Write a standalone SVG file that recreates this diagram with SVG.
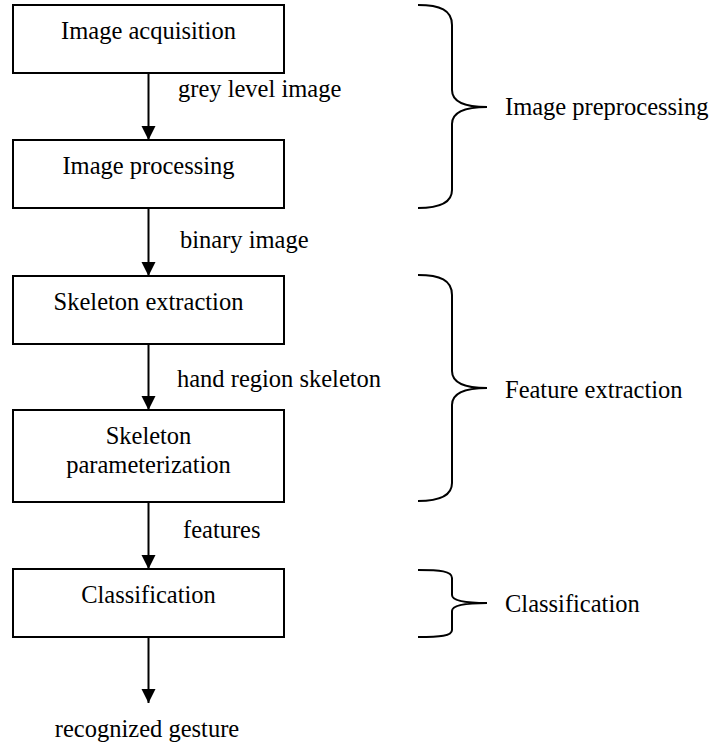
<svg xmlns="http://www.w3.org/2000/svg" width="713" height="747" viewBox="0 0 713 747">
<style>
text{font-family:'Liberation Serif','DejaVu Serif',serif;font-size:24.5px;fill:#000}
.c{text-anchor:middle}
.box{fill:#fff;stroke:#000;stroke-width:2}
.ln{stroke:#000;stroke-width:2;fill:none}
.br{stroke:#000;stroke-width:2;fill:none}
</style>
<defs>
<marker id="ah" markerUnits="userSpaceOnUse" markerWidth="14" markerHeight="15" refX="14" refY="7" orient="auto">
<path d="M0,0 L14,7 L0,14 Z" fill="#000"/>
</marker>
</defs>
<rect width="713" height="747" fill="#fff"/>
<g id="connectors" font-family="Liberation Serif, DejaVu Serif, serif">
<line class="ln" x1="148.5" y1="73" x2="148.5" y2="140" marker-end="url(#ah)"/>
<line class="ln" x1="148.5" y1="208" x2="148.5" y2="276" marker-end="url(#ah)"/>
<line class="ln" x1="148.5" y1="344" x2="148.5" y2="410" marker-end="url(#ah)"/>
<line class="ln" x1="148.5" y1="502" x2="148.5" y2="569" marker-end="url(#ah)"/>
<line class="ln" x1="148.5" y1="637" x2="148.5" y2="703" marker-end="url(#ah)"/>
<text x="178" y="97">grey level image</text>
<text x="180" y="248">binary image</text>
<text x="177" y="387">hand region skeleton</text>
<text x="183" y="538">features</text>
<text class="c" x="147" y="737">recognized gesture</text>
</g>
<g id="n1"><rect class="box" x="13" y="5" width="271" height="68"/><text class="c" x="148.5" y="39">Image acquisition</text></g>
<g id="n2"><rect class="box" x="13" y="140" width="271" height="68"/><text class="c" x="148.5" y="174">Image processing</text></g>
<g id="n3"><rect class="box" x="13" y="276" width="271" height="68"/><text class="c" x="148.5" y="310">Skeleton extraction</text></g>
<g id="n4"><rect class="box" x="13" y="410" width="271" height="92"/><text class="c" x="148.5" y="444">Skeleton</text><text class="c" x="148.5" y="473">parameterization</text></g>
<g id="n5"><rect class="box" x="13" y="569" width="271" height="68"/><text class="c" x="148.5" y="603">Classification</text></g>
<g id="brace1"><path class="br" d="M418,5 C440,5 452,10 452,25 L452,90 C452,100 462,107 487,107 C462,107 452,114 452,124 L452,190 C452,203 440,208 418,208"/><text x="505" y="115">Image preprocessing</text></g>
<g id="brace2"><path class="br" d="M418,275 C440,275 452,280 452,295 L452,371 C452,381 462,388 487,388 C462,388 452,395 452,405 L452,483 C452,496 440,501 418,501"/><text x="505" y="398">Feature extraction</text></g>
<g id="brace3"><path class="br" d="M418,570 C440,570 452,571 452,578 L452,595 C452,600 462,603 487,603 C462,603 452,606 452,611 L452,630 C452,636 440,637 418,637"/><text x="505" y="612">Classification</text></g>
</svg>
